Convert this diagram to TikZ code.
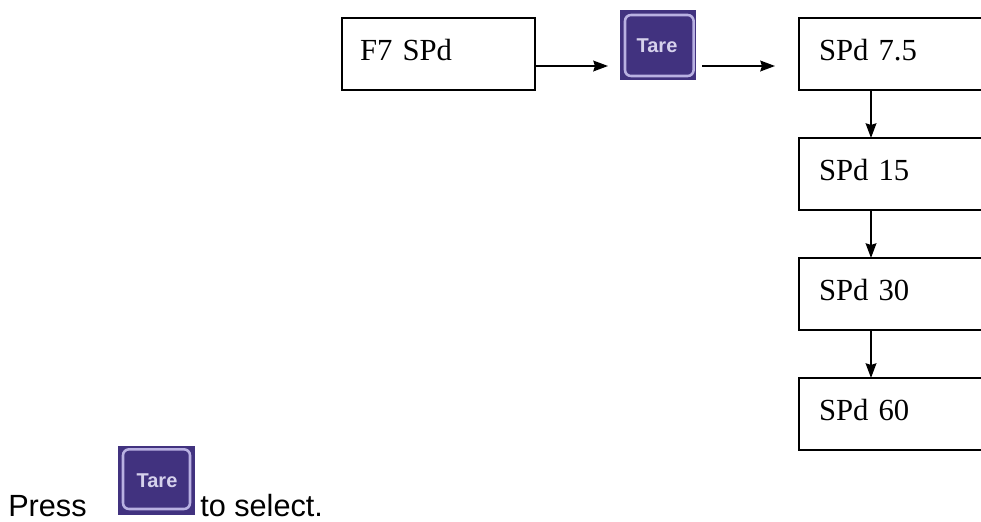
\documentclass[tikz,border=0pt]{standalone}
\usepackage{fontspec}
\setmainfont{Liberation Serif}
\newfontfamily\arialf{Liberation Sans}
\usetikzlibrary{arrows.meta,calc}
\definecolor{iconbg}{HTML}{41327F}
\definecolor{iconln}{HTML}{B9B1E2}
\definecolor{icontx}{HTML}{D6D2EC}
\tikzset{
  x=0.75pt,y=-0.75pt,
  flowbox/.style={draw=black,line width=1.4pt,rectangle,anchor=north west,outer sep=0pt,minimum height=54pt,inner xsep=0pt,inner ysep=0pt,align=left,font=\fontsize{23}{26}\selectfont},
  flowarrow/.style={draw=black,line width=1.5pt,-{Stealth[length=11pt,width=8pt,inset=1.2pt]}},
  tarekey/.style={rectangle,fill=iconbg,anchor=north west,inner sep=0pt,outer sep=0pt},
  keyframe/.style={draw=iconln,line width=1.9pt,rounded corners=4.5pt},
  keytext/.style={text=icontx,font=\arialf\bfseries\fontsize{15}{17}\selectfont,inner sep=0pt},
  plain/.style={font=\arialf\fontsize{23}{27}\selectfont,inner sep=0pt,anchor=base west,text=black},
}
\newcommand{\tarekeyicon}[5]{% name, x, y, w, h
  \node[tarekey,minimum width=#4*0.75pt,minimum height=#5*0.75pt] (#1) at (#2,#3) {};
}
\begin{document}
\begin{tikzpicture}
\useasboundingbox (0,0) rectangle (981,521);
\clip (0,0) rectangle (981,521);
\node[flowbox,minimum width=145pt,text width=145pt] (f7) at (342,18) {\hspace{13.5pt}\raisebox{6pt}{F7 SPd}};
\tarekeyicon{keya}{620}{10}{76}{70}
\draw[keyframe] ($(keya.north west)+(3.75pt,-3.75pt)$) rectangle ($(keya.south east)+(-1.8pt,3pt)$);
\node[keytext] (keyalabel) at (657,46) {Tare};
\node[flowbox,minimum width=150pt,text width=150pt] (s1) at (799,18) {\hspace{15pt}\raisebox{6pt}{SPd 7.5}};
\node[flowbox,minimum width=150pt,text width=150pt] (s2) at (799,138) {\hspace{15pt}\raisebox{6pt}{SPd 15}};
\node[flowbox,minimum width=150pt,text width=150pt] (s3) at (799,258) {\hspace{15pt}\raisebox{6pt}{SPd 30}};
\node[flowbox,minimum width=150pt,text width=150pt] (s4) at (799,378) {\hspace{15pt}\raisebox{6pt}{SPd 60}};
\coordinate (a1) at ($(f7.east)+(0,-9pt)$);
\coordinate (a2) at ($(keya.west)+(-9pt,0)$);
\coordinate (a3) at ($(keya.east)+(4.5pt,0)$);
\coordinate (a4) at ($(s1.west)+(-18pt,0)$);
\draw[flowarrow] (a1) -- (a1 -| a2);
\draw[flowarrow] (a1 -| a3) -- (a1 -| a4);
\coordinate (c1) at ($(s1.south west)+(54pt,0)$);
\coordinate (c2) at ($(s2.north west)+(54pt,0)$);
\coordinate (c3) at ($(s2.south west)+(54pt,0)$);
\coordinate (c4) at ($(s3.north west)+(54pt,0)$);
\coordinate (c5) at ($(s3.south west)+(54pt,0)$);
\coordinate (c6) at ($(s4.north west)+(54pt,0)$);
\draw[flowarrow] (c1) -- (c2);
\draw[flowarrow] (c3) -- (c4);
\draw[flowarrow] (c5) -- (c6);
\node[plain] (press) at (8,516.5) {Press};
\tarekeyicon{keyb}{118}{446}{77}{69}
\draw[keyframe] ($(keyb.north west)+(3.75pt,-2.5pt)$) rectangle ($(keyb.south east)+(-3.75pt,4.5pt)$);
\node[keytext] (keyblabel) at (157,481) {Tare};
\node[plain] (sel) at (200,516.5) {to select.};
\end{tikzpicture}
\end{document}
